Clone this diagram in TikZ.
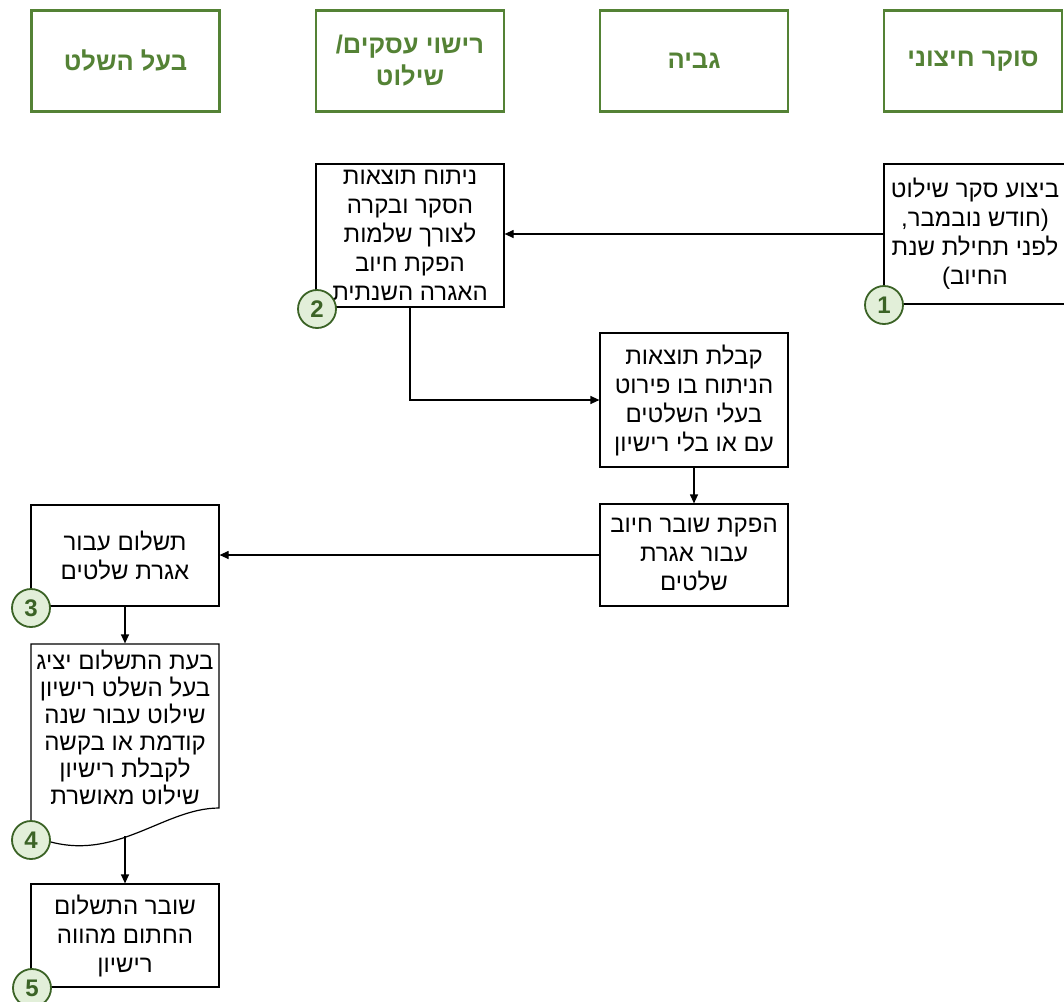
\documentclass[tikz,border=0pt]{standalone}
\usepackage{fontspec}
\setmainfont{Liberation Sans}
\newfontfamily\hebfont[Script=Hebrew]{Liberation Sans}
\TeXXeTstate=1
\usetikzlibrary{arrows.meta}
\newcommand{\rl}[1]{\beginR#1\endR}
\definecolor{lanegreen}{HTML}{548235}
\definecolor{numfill}{HTML}{E2EFD9}
\definecolor{numdraw}{HTML}{3B6326}

\begin{document}
\begin{tikzpicture}[x=1pt, y=-1pt,
    lane/.style={rectangle, draw=lanegreen, line width=2.6pt, minimum width=188pt, minimum height=101pt,
      align=center, text=lanegreen, font=\hebfont\bfseries\fontsize{25.5}{32}\selectfont},
    stepbox/.style={rectangle, draw, line width=1.2pt, minimum width=188pt, inner sep=0pt,
      align=center, font=\hebfont\fontsize{24}{29}\selectfont},
    stepnum/.style={circle, draw=numdraw, fill=numfill, line width=1.8pt, minimum size=38pt,
      inner sep=0pt, text=numdraw, font=\bfseries\fontsize{24}{24}\selectfont},
    flow/.style={-{Triangle[length=9pt,width=8pt]}, line width=1.2pt}
    ]
    \useasboundingbox (0,0) rectangle (1064,1001);
    % swimlane headers
    \node[lane] (owner) at (125.5,61) {\rl{בעל השלט}};
    \node[lane] (licensing) at (410,61) {\rl{רישוי עסקים/}\\\rl{שילוט}};
    \node[lane] (billing) at (694,61) {\rl{גביה}};
    \node[lane, minimum width=178pt] (surveyor) at (973,61) {\rl{סוקר חיצוני}};

    % steps
    \node[stepbox, minimum width=182pt, minimum height=140pt] (survey) at (975,234)
      {\rl{ביצוע סקר שילוט}\\\rl{(חודש נובמבר,}\\\rl{לפני תחילת שנת}\\\rl{החיוב)}};
    \node[stepbox, minimum height=143pt] (analysis) at (410,235.5)
      {\rl{ניתוח תוצאות}\\\rl{הסקר ובקרה}\\\rl{לצורך שלמות}\\\rl{הפקת חיוב}\\\rl{האגרה השנתית}};
    \node[stepbox, minimum height=134pt] (results) at (694,400)
      {\rl{קבלת תוצאות}\\\rl{הניתוח בו פירוט}\\\rl{בעלי השלטים}\\\rl{עם או בלי רישיון}};
    \node[stepbox, minimum height=102pt] (voucher) at (694,555)
      {\rl{הפקת שובר חיוב}\\\rl{עבור אגרת}\\\rl{שלטים}};
    \node[stepbox, minimum height=101pt] (payment) at (125,555.5)
      {\rl{תשלום עבור}\\\rl{אגרת שלטים}};
    \node[stepbox, draw=none, minimum height=166pt, font=\hebfont\fontsize{24}{27}\selectfont] (permit) at (125,727)
      {\rl{בעת התשלום יציג}\\\rl{בעל השלט רישיון}\\\rl{שילוט עבור שנה}\\\rl{קודמת או בקשה}\\\rl{לקבלת רישיון}\\\rl{שילוט מאושרת}};
    \draw[line width=1.2pt] (31,644) -- (219,644) -- (219,808)
      .. controls (160,808) and (110,870) .. (31,835) -- cycle;
    \node[stepbox, minimum height=103pt] (receipt) at (125,935.5)
      {\rl{שובר התשלום}\\\rl{החתום מהווה}\\\rl{רישיון}};
    \coordinate (wave) at (125,836);

    % flow
    \draw[flow] (survey.west) -- (survey.west -| analysis.east);
    \draw[flow] (analysis.south) |- (results.west);
    \draw[flow] (results) -- (voucher);
    \draw[flow] (voucher.west) -- (voucher.west -| payment.east);
    \draw[flow] (payment) -- (permit);
    \draw[flow] (wave) -- (receipt);

    % step numbers
    \node[stepnum] (n1) at (884,305) {1};
    \node[stepnum] (n2) at (317,309) {2};
    \node[stepnum] (n3) at (31,608) {3};
    \node[stepnum] (n4) at (31,840) {4};
    \node[stepnum] (n5) at (32,988) {5};
  \end{tikzpicture}
\end{document}
